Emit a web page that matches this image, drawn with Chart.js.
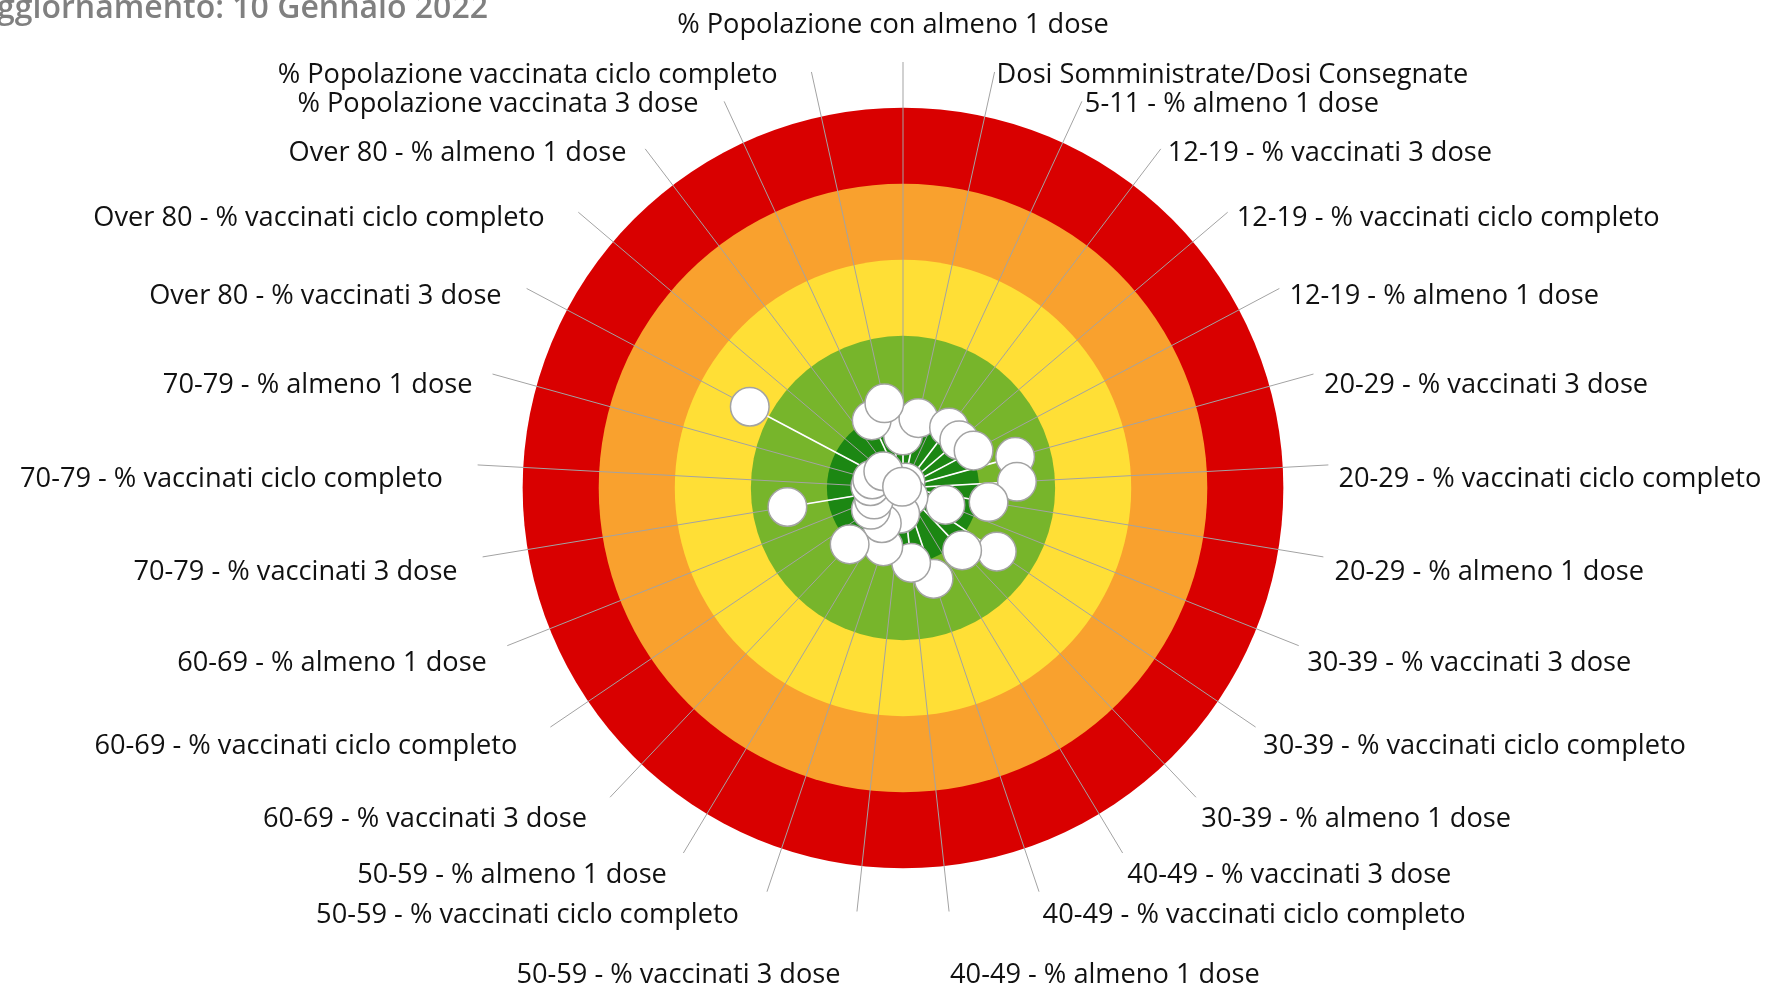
<!DOCTYPE html>
<html><head><meta charset="utf-8">
<script src="https://cdn.jsdelivr.net/npm/chart.js@4"></script>
<style>
html,body{margin:0;padding:0;background:#fff;overflow:hidden;width:1767px;height:987px}
#wrap{position:absolute;left:0;top:0;width:1767px;height:987px}
#upd{position:absolute;right:1279px;top:-10px;font:600 32px "Open Sans";color:#808080;white-space:nowrap;line-height:1}
</style></head><body>
<div id="wrap"><canvas id="c"></canvas></div>
<div id="upd">Aggiornamento: 10 Gennaio 2022</div>
<script>
const categories = [
"% Popolazione con almeno 1 dose",
"Dosi Somministrate/Dosi Consegnate",
"5-11 - % almeno 1 dose",
"12-19 - % vaccinati 3 dose",
"12-19 - % vaccinati ciclo completo",
"12-19 - % almeno 1 dose",
"20-29 - % vaccinati 3 dose",
"20-29 - % vaccinati ciclo completo",
"20-29 - % almeno 1 dose",
"30-39 - % vaccinati 3 dose",
"30-39 - % vaccinati ciclo completo",
"30-39 - % almeno 1 dose",
"40-49 - % vaccinati 3 dose",
"40-49 - % vaccinati ciclo completo",
"40-49 - % almeno 1 dose",
"50-59 - % vaccinati 3 dose",
"50-59 - % vaccinati ciclo completo",
"50-59 - % almeno 1 dose",
"60-69 - % vaccinati 3 dose",
"60-69 - % vaccinati ciclo completo",
"60-69 - % almeno 1 dose",
"70-79 - % vaccinati 3 dose",
"70-79 - % vaccinati ciclo completo",
"70-79 - % almeno 1 dose",
"Over 80 - % vaccinati 3 dose",
"Over 80 - % vaccinati ciclo completo",
"Over 80 - % almeno 1 dose",
"% Popolazione vaccinata 3 dose",
"% Popolazione vaccinata ciclo completo"
];
const scores = [0.69, 0.94, 0.08, 1.00, 0.97, 1.05, 1.53, 1.50, 1.14, 0.60,
                1.49, 1.13, 0.14, 1.26, 0.99, 0.34, 0.81, 0.54, 1.02, 0.51,
                0.41, 1.54, 0.43, 0.42, 2.28, 0.34, 0.02, 0.98, 1.14];
const bandLimits = [5, 4, 3, 2, 1];
const bandColors = ['#D90000', '#F9A12E', '#FFDF36', '#77B52B', '#1C8713'];
const axisMax = 5.6;

// label placement relative to the end of each angle line: [align, dx, dy]
const labelPlace = [
 ['center',-10,-39.5],
 ['left',2,1],['left',3,1],['left',7,2],['left',9,4],['left',10,5.5],['left',10.5,9],
 ['left',10,11.7],['left',11,13.5],['left',8.4,14.8],['left',7.5,17],['left',5.4,19.7],
 ['left',4.6,20.2],['left',3.6,21],['left',1,61],
 ['right',-16.4,61],['right',-28,21],['right',-16.5,20.2],['right',-23,19.7],['right',-33,17],
 ['right',-20.4,14.8],['right',-25,13.5],['right',-34.7,11.7],['right',-20,9],['right',-25,5.5],
 ['right',-33.8,4],['right',-18.7,2],['right',-25.5,1],['right',-33.8,1]
];
const labelShiftY = 2.3;

const ringsPlugin = {
  id: 'rings',
  beforeDraw(chart) {
    const s = chart.scales.r, ctx = chart.ctx;
    ctx.save();
    bandLimits.forEach((v, i) => {
      ctx.beginPath();
      ctx.arc(s.xCenter, s.yCenter, s.getDistanceFromCenterForValue(v), 0, Math.PI * 2);
      ctx.fillStyle = bandColors[i];
      ctx.fill();
    });
    ctx.restore();
  }
};
const spokesPlugin = {
  id: 'spokes',
  beforeDatasetsDraw(chart) {
    const s = chart.scales.r, ctx = chart.ctx;
    const meta = chart.getDatasetMeta(0);
    ctx.save();
    ctx.strokeStyle = '#ffffff';
    ctx.lineWidth = 1.6;
    meta.data.forEach(pt => {
      ctx.beginPath();
      ctx.moveTo(s.xCenter, s.yCenter);
      ctx.lineTo(pt.x, pt.y);
      ctx.stroke();
    });
    ctx.restore();
  }
};
const labelsPlugin = {
  id: 'outerLabels',
  afterDraw(chart) {
    const s = chart.scales.r, ctx = chart.ctx;
    ctx.save();
    ctx.font = '27.2px "Open Sans"';
    ctx.fillStyle = '#111111';
    ctx.textBaseline = 'middle';
    categories.forEach((lab, i) => {
      const p = s.getPointPosition(i, s.drawingArea);
      const pl = labelPlace[i];
      ctx.textAlign = pl[0];
      ctx.fillText(lab, p.x + pl[1], p.y + pl[2] + labelShiftY);
    });
    ctx.restore();
  }
};

new Chart(document.getElementById('c'), {
  type: 'radar',
  data: {
    labels: categories,
    datasets: [{
      data: scores,
      showLine: false,
      fill: false,
      borderWidth: 0,
      borderColor: 'rgba(0,0,0,0)',
      pointRadius: 19.3,
      pointHoverRadius: 19.3,
      pointBackgroundColor: '#ffffff',
      pointBorderColor: '#a3a3a3',
      pointBorderWidth: 1.5
    }]
  },
  options: {
    responsive: true,
    maintainAspectRatio: false,
    animation: false,
    events: [],
    layout: { padding: { left: 477, top: 62, right: 438, bottom: 73 } },
    plugins: { legend: { display: false }, tooltip: { enabled: false } },
    scales: {
      r: {
        min: 0, max: axisMax, startAngle: 0,
        ticks: { display: false },
        grid: { display: false },
        angleLines: { display: true, color: '#a3a3a3', lineWidth: 1 },
        pointLabels: { display: false }
      }
    }
  },
  plugins: [ringsPlugin, spokesPlugin, labelsPlugin]
});
</script>
</body></html>
